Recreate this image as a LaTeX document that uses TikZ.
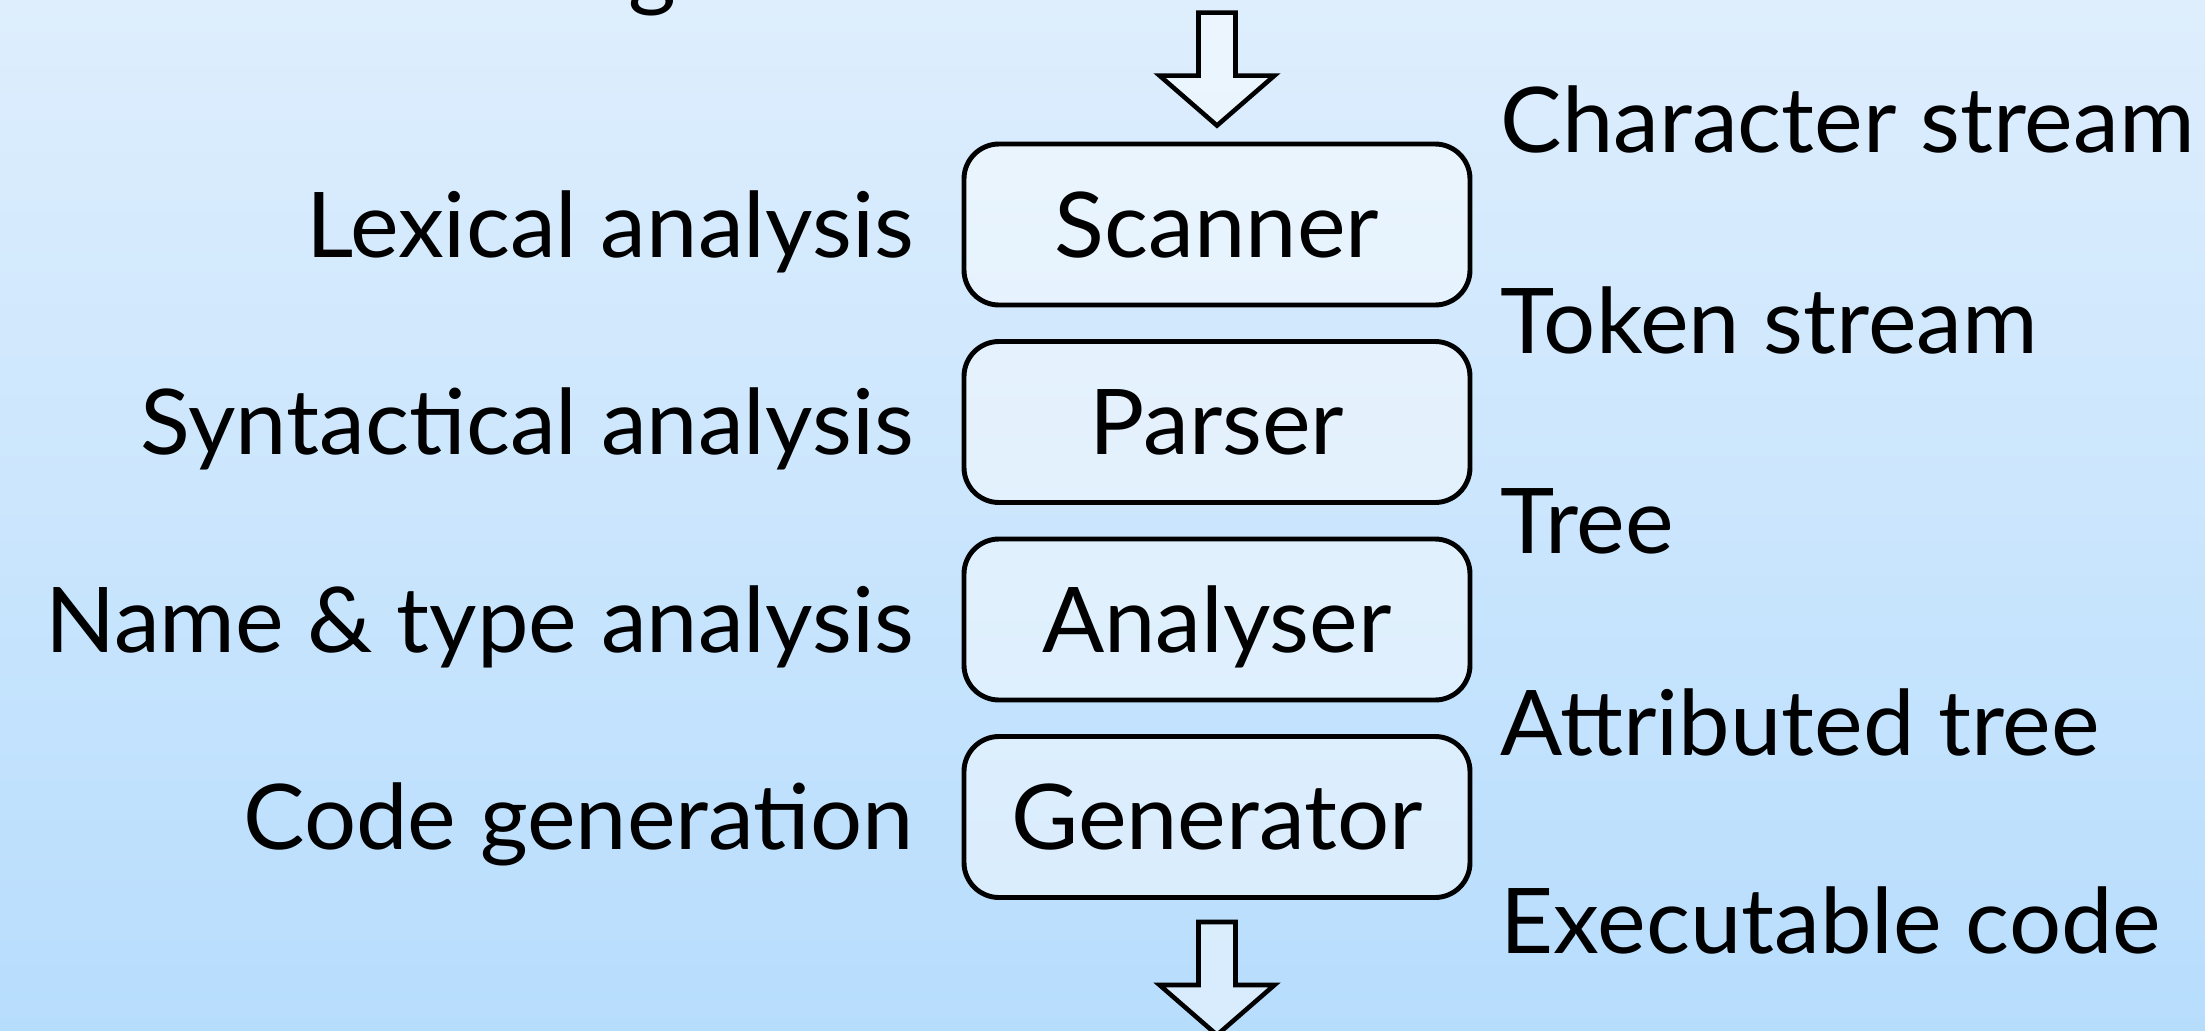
\documentclass[tikz,border=0pt]{standalone}
\usepackage{fontspec}
\setmainfont{Lato}[FakeStretch=1.015]
\definecolor{bgtop}{HTML}{DEEEFD}
\definecolor{bgbottom}{HTML}{B7DDFD}

\begin{document}
\begin{tikzpicture}[
    x=1mm, y=-1mm,
    font=\fontsize{25.8}{30}\selectfont,
    phase/.style={draw, line width=1.4pt, rounded corners=3.5mm,
                  fill=white, fill opacity=0.45, text opacity=1,
                  minimum width=50.6mm, minimum height=16.1mm,
                  inner sep=0pt, text height=6.5mm, text depth=0pt},
    task/.style={anchor=base east, inner sep=0pt},
    data/.style={anchor=base west, inner sep=0pt},
    bigarrow/.style={draw, line width=1.3pt, fill=white, fill opacity=0.45,
                     line join=miter},
]

% ---- background ---------------------------------------------------------------
\shade[top color=bgtop, bottom color=bgbottom] (0,0) rectangle (220.5,103.1);
\useasboundingbox (0,0) rectangle (220.5,103.1);

% ---- compiler phases ------------------------------------------------------------
\node[phase] (scan) at (121.7,22.45) {Scanner};
\node[phase] (pars) at (121.7,42.2)  {Parser};
\node[phase] (anal) at (121.7,61.95) {Analyser};
\node[phase] (gen)  at (121.7,81.7)  {Generator};

% ---- what each phase does -----------------------------------------------------
\node[task] (lex)  at ([xshift=-4.7mm]scan.base west) {Lexical analysis};
\node[task] (syn)  at ([xshift=-4.7mm]pars.base west) {Syntactical analysis};
\node[task] (sem)  at ([xshift=-4.7mm]anal.base west) {Name \& type analysis};
\node[task] (code) at ([xshift=-4.7mm]gen.base west)  {Code generation};

% ---- data between the phases ----------------------------------------------------
\node[data] (chars)  at (150.0,15.3) {Character stream};
\node[data] (tokens) at (150.0,35.3) {Token stream};
\node[data] (tree)   at (150.0,55.3) {Tree};
\node[data] (attr)   at (150.0,75.5) {Attributed tree};
\node[data] (exe)    at (150.0,95.3) {Executable code};

% ---- cut-off heading ------------------------------------------------------------
\node[anchor=base, inner sep=0pt] (cut) at (65.2,0) {g};

% ---- input and output arrows --------------------------------------------------
\coordinate (intip)  at ([yshift=1.6mm]scan.north);
\coordinate (outtip) at ([yshift=-13.5mm]gen.south);
\draw[bigarrow] (intip) -- ++(5.75mm,5mm) -- ++(-3.9mm,0) -- ++(0,6.3mm)
    -- ++(-3.7mm,0) -- ++(0,-6.3mm) -- ++(-3.9mm,0) -- cycle;
\draw[bigarrow] (outtip) -- ++(5.75mm,5mm) -- ++(-3.9mm,0) -- ++(0,6.3mm)
    -- ++(-3.7mm,0) -- ++(0,-6.3mm) -- ++(-3.9mm,0) -- cycle;

\end{tikzpicture}
\end{document}
